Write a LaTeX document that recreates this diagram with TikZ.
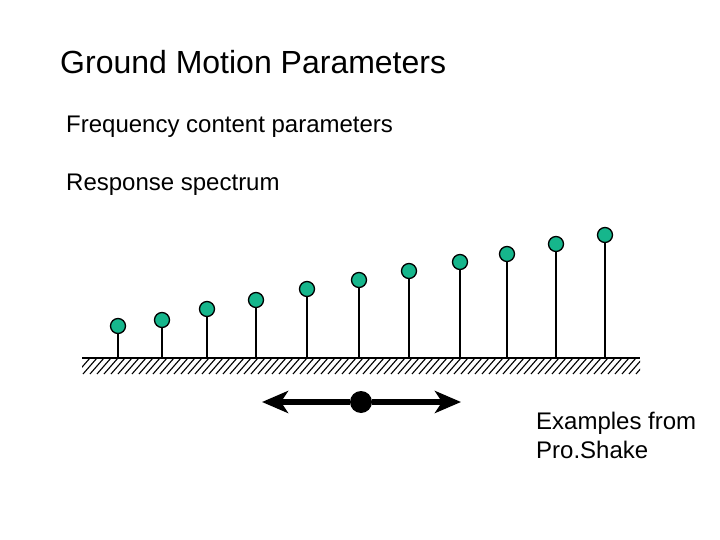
\documentclass[tikz,border=0pt]{standalone}
\usepackage{fontspec}
\setmainfont{Liberation Sans}
\usetikzlibrary{arrows.meta}
\definecolor{ball}{RGB}{22,182,140}
\begin{document}
\begin{tikzpicture}[x=1pt,y=-1pt,
  txt/.style={anchor=base west,inner sep=0,font=\fontsize{24}{29}\selectfont},
  ball/.style={circle,draw=black,line width=1.3pt,fill=ball,minimum size=15pt,inner sep=0},
  stem/.style={line width=1.5pt},
  big/.style={line width=6pt,-{Stealth[length=26pt,width=22pt,inset=7pt]}}]
\useasboundingbox (0,0) rectangle (720,540);
\node[anchor=base west,inner sep=0,font=\fontsize{32}{38}\selectfont] (t) at (60,74) {Ground Motion Parameters};
\node[txt] (f) at (66,133) {Frequency content parameters};
\node[txt] (r) at (66,191) {Response spectrum};
\node[txt,align=left] (e) at (536,458) {Examples from\\Pro.Shake};
% ground
\coordinate (gl) at (82,358);
\coordinate (gr) at (640,358);
\draw[line width=1.5pt] (gl) -- (gr);
\begin{scope}
\clip (82,358) rectangle (640,374);
\foreach \x in {76,83,...,650} \draw[line width=1.1pt] (\x,374) -- (\x+14,358);
\end{scope}
\foreach \i/\x/\y in {1/118/326,2/162/320,3/207/309,4/256/300,5/307/289,6/359/280,7/409/271,8/460/262,9/507/254,10/556/244,11/605/235}{
  \coordinate (g\i) at (\x,358);
  \node[ball] (b\i) at (\x,\y) {};
  \draw[stem] (b\i) -- (g\i);
}
% arrow
\node[circle,fill=black,minimum size=22pt,inner sep=0] (d) at (361,402) {};
\coordinate (al) at (262,402);
\coordinate (ar) at (461,402);
\draw[big] (d) -- (al);
\draw[big] (d) -- (ar);
\end{tikzpicture}
\end{document}
